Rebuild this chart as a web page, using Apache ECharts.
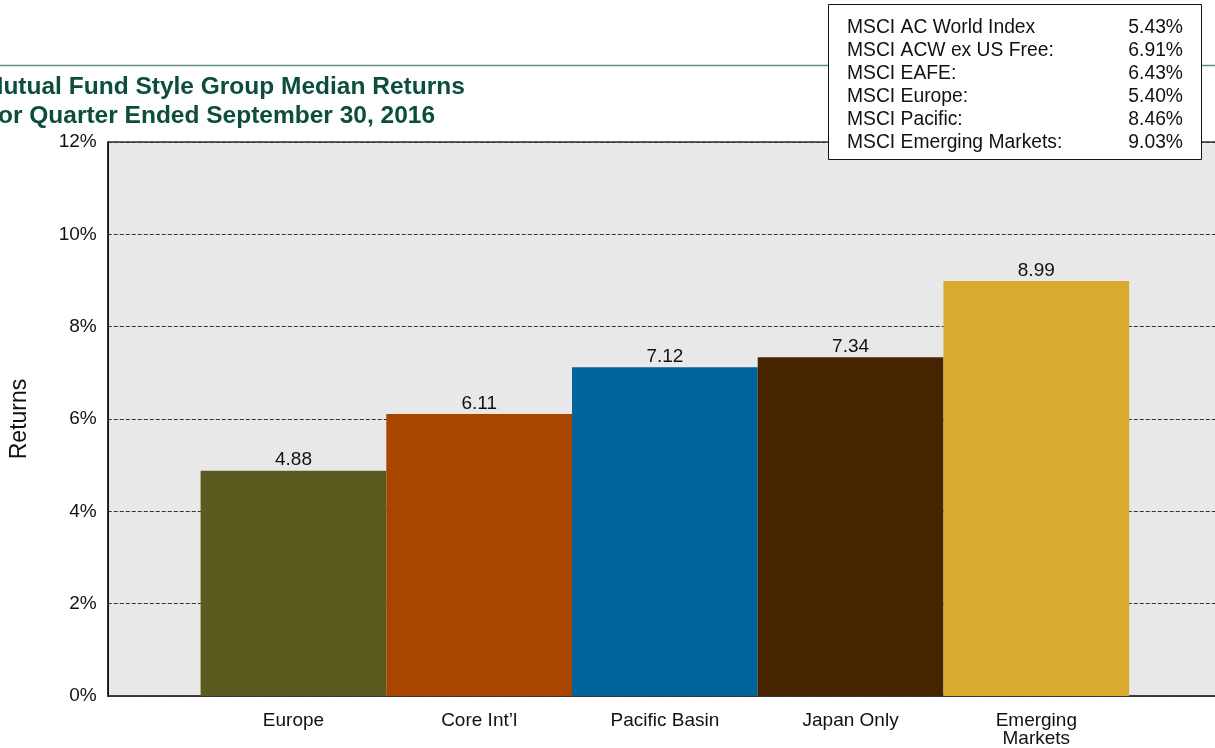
<!DOCTYPE html>
<html>
<head>
<meta charset="utf-8">
<script src="https://cdn.jsdelivr.net/npm/echarts@6/dist/echarts.min.js"></script>
<style>
html,body{margin:0;padding:0;background:#fff;}
#chart{width:1215px;height:748px;}
</style>
</head>
<body>
<div id="chart"></div>
<script>
const categories = ['Europe', 'Core Int\u2019l', 'Pacific Basin', 'Japan Only', 'Emerging\nMarkets'];
const returns = [4.88, 6.11, 7.12, 7.34, 8.99];
const barColors = ['#5b5b20', '#a84600', '#00649a', '#472400', '#daa930'];
const yTicks = [0, 2, 4, 6, 8, 10, 12];
const indexNames = ['MSCI AC World Index', 'MSCI ACW ex US Free:', 'MSCI EAFE:', 'MSCI Europe:', 'MSCI Pacific:', 'MSCI Emerging Markets:'];
const indexValues = ['5.43%', '6.91%', '6.43%', '5.40%', '8.46%', '9.03%'];
const titleLines = ['Mutual Fund Style Group Median Returns', 'For Quarter Ended September 30, 2016'];

const chart = echarts.init(document.getElementById('chart'), null, {renderer: 'canvas'});

const axisCats = [''].concat(categories, ['']);
const barData = ['-'].concat(returns.map((v, i) => ({value: v, itemStyle: {color: barColors[i]}})), ['-']);

const FONT = '"Liberation Sans", Arial, sans-serif';

const graphics = [
  {type: 'line', shape: {x1: 0, y1: 65.5, x2: 1215, y2: 65.5}, style: {stroke: '#5e8c7e', lineWidth: 1.5}, z: 1},
  {type: 'text', x: -17, y: 87, style: {text: titleLines[0], font: 'bold 24.5px ' + FONT, fill: '#0d4d3d', verticalAlign: 'middle'}, z: 5},
  {type: 'text', x: -17, y: 116, style: {text: titleLines[1], font: 'bold 24.5px ' + FONT, fill: '#0d4d3d', verticalAlign: 'middle'}, z: 5},
  {type: 'rect', shape: {x: 828.5, y: 4.5, width: 373, height: 155}, style: {fill: '#fff', stroke: '#111', lineWidth: 1}, z: 10}
];
indexNames.forEach((n, i) => {
  graphics.push({type: 'text', x: 847, y: 27.5 + i * 23, style: {text: n, font: '19.3px ' + FONT, fill: '#111', verticalAlign: 'middle', align: 'left'}, z: 11});
  graphics.push({type: 'text', x: 1183, y: 27.5 + i * 23, style: {text: indexValues[i], font: '19.3px ' + FONT, fill: '#111', verticalAlign: 'middle', align: 'right'}, z: 11});
});

chart.setOption({
  animation: false,
  textStyle: {fontFamily: FONT},
  grid: {left: 107.75, top: 142, right: -7, bottom: 52, outerBoundsMode: 'none', containLabel: false, show: true, backgroundColor: '#e8e8e8', borderColor: '#333', borderWidth: 1.5},
  xAxis: {
    type: 'category',
    data: axisCats,
    boundaryGap: false,
    axisLine: {lineStyle: {color: '#333', width: 1.5}},
    axisTick: {show: false},
    axisLabel: {color: '#111', fontSize: 19, margin: 16, lineHeight: 18, interval: 0, fontFamily: FONT},
    splitLine: {show: false}
  },
  yAxis: {
    type: 'value',
    min: yTicks[0],
    max: yTicks[yTicks.length - 1],
    interval: 2,
    name: 'Returns',
    nameLocation: 'middle',
    nameGap: 77,
    nameRotate: 90,
    nameTextStyle: {color: '#111', fontSize: 23, fontFamily: FONT},
    axisLine: {show: true, lineStyle: {color: '#111', width: 1}},
    axisTick: {show: false},
    axisLabel: {color: '#111', fontSize: 19, margin: 11, formatter: '{value}%', fontFamily: FONT},
    splitLine: {show: true, lineStyle: {color: '#333', type: [4, 2], width: 1}}
  },
  series: [{
    type: 'bar',
    data: barData,
    barWidth: '100%',
    barGap: '0%',
    label: {show: true, position: 'top', distance: 1, color: '#111', fontSize: 19, fontFamily: FONT, formatter: p => Number(p.value).toFixed(2)},
    z: 3
  }],
  graphic: graphics
});
</script>
</body>
</html>
